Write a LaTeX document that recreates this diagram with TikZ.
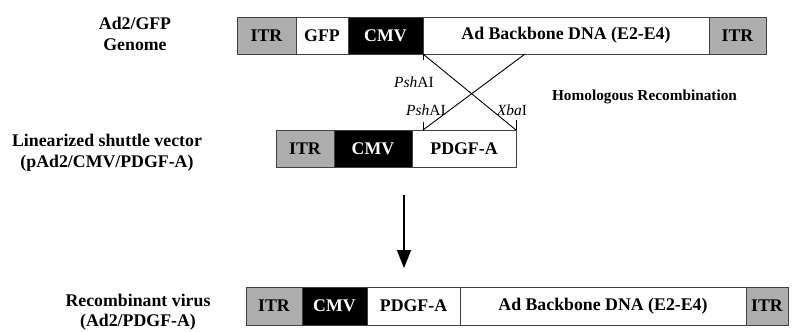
\documentclass[tikz,border=0pt]{standalone}
\usepackage{fontspec}
\setmainfont{Liberation Serif}
\usetikzlibrary{positioning,arrows.meta}

\tikzset{
  box/.style={draw=black!75, line width=0.8pt, minimum height=37pt,
    inner sep=0pt, outer sep=0pt, font=\fontsize{17.8}{20}\selectfont\bfseries},
  itr/.style={box, fill=black!32},
  gene/.style={box, fill=white},
  cmv/.style={box, fill=black, text=white},
  caption/.style={align=center, font=\fontsize{17.8}{21}\selectfont\bfseries},
  site/.style={inner sep=0pt, font=\fontsize{15.5}{17}\selectfont},
}

\begin{document}
\begin{tikzpicture}[x=1pt,y=-1pt]
\useasboundingbox (0,0) rectangle (796,332);

% Ad2/GFP genome
\begin{scope}
\node[caption] (capGenome) at (135,34) {Ad2/GFP\\Genome};
\node[itr, minimum width=59pt, anchor=west] (gITRa) at (237,35.5) {ITR};
\node[gene, minimum width=52pt, right=0pt of gITRa] (gGFP) {GFP};
\node[cmv, minimum width=75pt, right=0pt of gGFP] (gCMV) {CMV};
\node[gene, minimum width=286pt, right=0pt of gCMV] (gBB) {Ad Backbone DNA (E2-E4)};
\node[itr, minimum width=57pt, right=0pt of gBB] (gITRb) {ITR};
\end{scope}

% shuttle vector
\begin{scope}
\node[caption] (capShuttle) at (107,153) {Linearized shuttle vector\\(pAd2/CMV/PDGF-A)};
\node[itr, minimum width=58pt, anchor=west] (sITR) at (276,148.5) {ITR};
\node[cmv, minimum width=78pt, right=0pt of sITR] (sCMV) {CMV};
\node[gene, minimum width=104pt, right=0pt of sCMV] (sPDGF) {PDGF-A};
\end{scope}

% recombination
\coordinate (homTop) at (525,54);
\coordinate (homLow) at (423,130);
\draw[line width=0.9pt] (gBB.south west) -- (sPDGF.north east);
\draw[line width=0.9pt] (homTop) -- (homLow);
\draw[line width=0.9pt] (gBB.south west) -- ++(0,6);
\draw[line width=0.9pt] (homLow) -- ++(0,-8);
\draw[line width=0.9pt] (sPDGF.north east) -- ++(0,-10);
\node[site] (pshTop) at (414,82) {\textit{Psh}AI};
\node[site] (pshLow) at (426,110) {\textit{Psh}AI};
\node[site] (xbaLow) at (512,110) {\textit{Xba}I};
\node[font=\fontsize{15.3}{17}\selectfont\bfseries] (homRec) at (644.5,97) {Homologous Recombination};

% arrow
\coordinate (arrTop) at (404,195);
\coordinate (arrEnd) at (404,268);
\draw[line width=1.8pt, -{Triangle[width=14pt,length=18pt]}] (arrTop) -- (arrEnd);

% recombinant virus
\begin{scope}
\node[caption, font=\fontsize{17.8}{19.5}\selectfont\bfseries] (capVirus) at (138,312) {Recombinant virus\\(Ad2/PDGF-A)};
\node[itr, minimum width=56pt, minimum height=38pt, anchor=west] (vITRa) at (246,306) {ITR};
\node[cmv, minimum width=65pt, minimum height=38pt, right=0pt of vITRa] (vCMV) {CMV};
\node[gene, minimum width=93pt, minimum height=38pt, right=0pt of vCMV] (vPDGF) {PDGF-A};
\node[gene, minimum width=286pt, minimum height=38pt, right=0pt of vPDGF] (vBB) {Ad Backbone DNA (E2-E4)};
\node[itr, minimum width=42pt, minimum height=38pt, right=0pt of vBB] (vITRb) {ITR};
\end{scope}

\end{tikzpicture}
\end{document}
